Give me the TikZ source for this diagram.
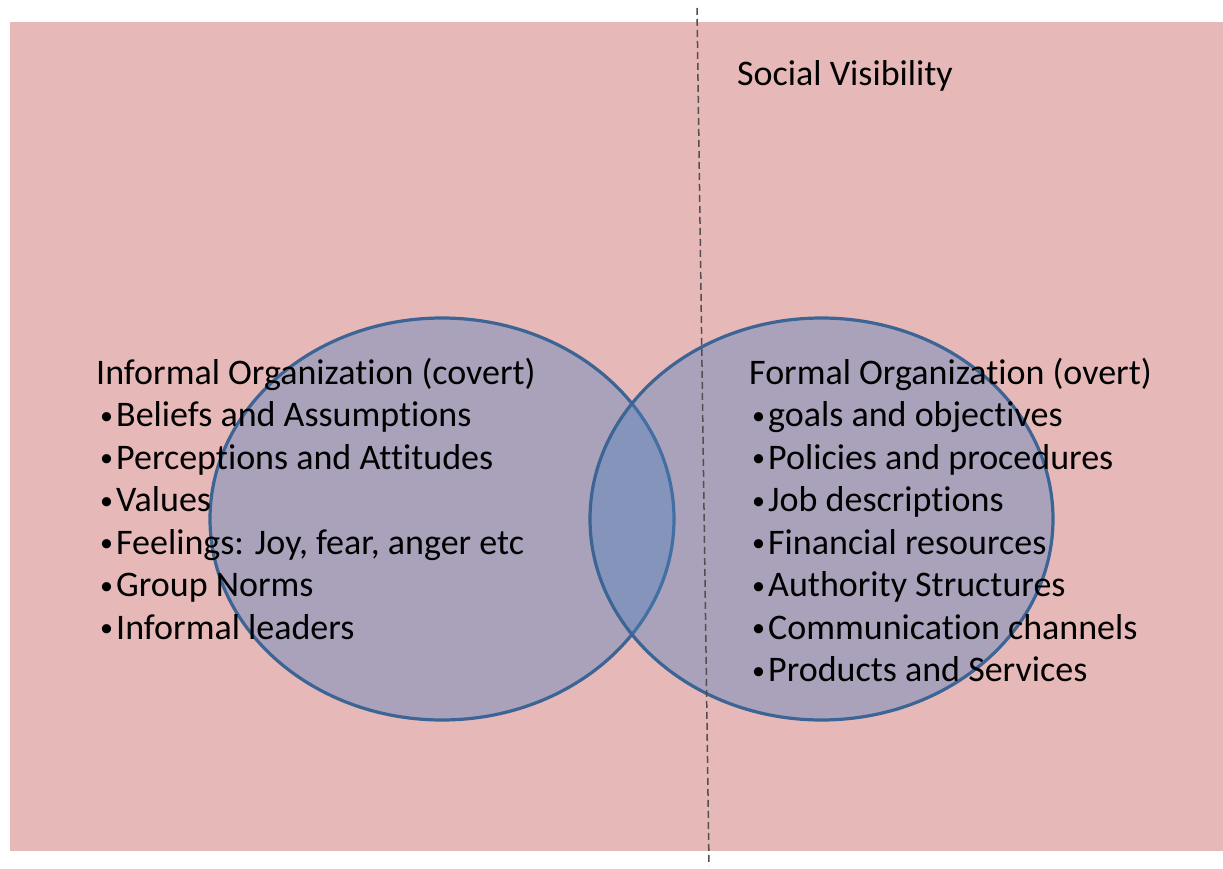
\documentclass[tikz,border=0pt]{standalone}
\usepackage{fontspec}
\setmainfont{Carlito}[Ligatures=NoCommon]
\definecolor{bgpink}{RGB}{230,185,184}
\definecolor{circblue}{RGB}{79,129,189}
\definecolor{circedge}{RGB}{60,100,148}
\definecolor{dashgrey}{RGB}{80,80,80}
\tikzset{
  txt/.style={anchor=base west, inner sep=0pt, font=\fontsize{36}{40}\selectfont, text=black},
  circ/.style={fill=circblue, fill opacity=0.4, draw=circedge, draw opacity=1, line width=3.2pt},
  dashline/.style={draw=dashgrey, line width=1.5pt, dash pattern=on 7pt off 4pt},
}
\newcommand{\bul}[1]{\makebox[16pt][l]{\fontsize{26}{26}\selectfont\raisebox{2.5pt}{•}}#1}
\begin{document}
\begin{tikzpicture}[x=1pt,y=-1pt]
\useasboundingbox (0,0) rectangle (1223,869);
\fill[white] (0,0) rectangle (1223,869);
\fill[bgpink] (10,22) rectangle (1223,851);
\draw[circ] (442,519) ellipse [x radius=232, y radius=201];
\draw[circ] (821.5,519) ellipse [x radius=231.5, y radius=201];
\coordinate (dtop) at (697,8);
\coordinate (dbot) at (709,866);
\draw[dashline] (dtop) -- (dbot);
\node[txt] (sv) at (737,86) {Social Visibility};
% left block
\node[txt] (lh) at (96,384) {Informal Organization (covert)};
\node[txt] (l1) at (100,426.5) {\bul{Beliefs and Assumptions}};
\node[txt] (l2) at (100,469) {\bul{Perceptions and Attitudes}};
\node[txt] (l3) at (100,511.5) {\bul{Values}};
\node[txt] (l4) at (100,554) {\bul{Feelings: Joy, fear, anger etc}};
\node[txt] (l5) at (100,596.5) {\bul{Group Norms}};
\node[txt] (l6) at (100,639) {\bul{Informal leaders}};
% right block
\node[txt] (rh) at (749,384) {Formal Organization (overt)};
\node[txt] (r1) at (752,426.5) {\bul{goals and objectives}};
\node[txt] (r2) at (752,469) {\bul{Policies and procedures}};
\node[txt] (r3) at (752,511.5) {\bul{Job descriptions}};
\node[txt] (r4) at (752,554) {\bul{Financial resources}};
\node[txt] (r5) at (752,596.5) {\bul{Authority Structures}};
\node[txt] (r6) at (752,639) {\bul{Communication channels}};
\node[txt] (r7) at (752,681.5) {\bul{Products and Services}};
\end{tikzpicture}
\end{document}
